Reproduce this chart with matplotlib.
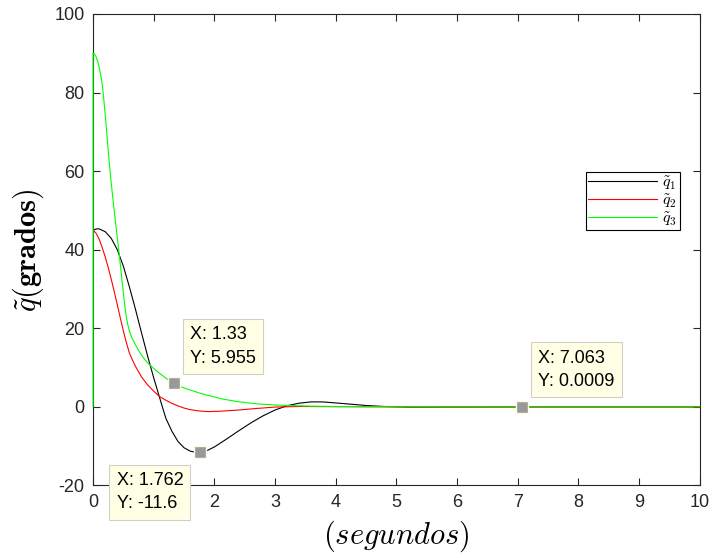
import matplotlib
matplotlib.use('Agg')
import matplotlib.pyplot as plt

# Respuesta de los errores articulares (grados) en el tiempo
t_q1 = [0, 0.06, 0.1, 0.2, 0.3, 0.4, 0.5, 0.6, 0.7, 0.8, 0.9, 1.0, 1.1, 1.2, 1.3,
        1.4, 1.5, 1.6, 1.7, 1.762, 1.85, 2.0, 2.2, 2.4, 2.6, 2.8, 3.0, 3.2, 3.4,
        3.6, 3.8, 4.0, 4.2, 4.5, 4.8, 5.2, 6.0, 7.0, 8.0, 10.0]
q1 = [45.0, 45.3, 45.3, 44.6, 42.9, 40.0, 35.8, 30.5, 24.8, 18.8, 12.9, 7.4, 2.2,
      -2.9, -6.2, -8.8, -10.4, -11.25, -11.6, -11.6, -11.35, -10.2, -8.2, -6.1, -4.1,
      -2.3, -0.8, 0.3, 0.95, 1.28, 1.25, 1.0, 0.75, 0.35, 0.1, -0.05, -0.03, 0.0, 0.0, 0.0]

t_q2 = [0, 0.05, 0.1, 0.15, 0.2, 0.25, 0.3, 0.35, 0.4, 0.45, 0.5, 0.55, 0.6, 0.65,
        0.7, 0.8, 0.9, 1.0, 1.1, 1.2, 1.3, 1.4, 1.5, 1.6, 1.75, 1.9, 2.1, 2.4, 2.7,
        3.0, 3.4, 4.0, 5.0, 10.0]
q2 = [45.0, 44.2, 42.7, 40.6, 38.2, 35.5, 32.5, 29.3, 26.0, 22.6, 19.3, 16.3, 13.7,
      11.9, 10.3, 7.6, 5.6, 4.0, 2.6, 1.7, 0.9, 0.25, -0.3, -0.7, -1.05, -1.2, -1.1,
      -0.8, -0.4, -0.05, 0.1, 0.05, 0.0, 0.0]

t_q3 = [0, 0, 0.025, 0.05, 0.075, 0.1, 0.125, 0.15, 0.175, 0.2, 0.225, 0.25, 0.275,
        0.3, 0.325, 0.35, 0.375, 0.4, 0.425, 0.45, 0.475, 0.5, 0.525, 0.55, 0.575,
        0.6, 0.625, 0.65, 0.7, 0.77, 0.83, 0.9, 0.99, 1.1, 1.21, 1.33, 1.45, 1.6, 1.75,
        1.9, 2.15, 2.4, 2.7, 3.0, 3.25, 3.6, 4.0, 5.0, 7.063, 10.0]
q3 = [0, 90.0, 89.8, 89.1, 88.0, 86.5, 84.6, 82.3, 78.7, 74.5, 70.0, 65.3, 61.0,
      57.0, 53.3, 49.8, 46.4, 43.1, 39.8, 36.3, 32.6, 29.0, 25.6, 22.8, 20.8,
      19.3, 18.2, 17.3, 15.8, 13.9, 12.5, 11.2, 9.9, 8.5, 7.2, 5.955, 5.1, 4.3, 3.55,
      2.9, 1.95, 1.3, 0.76, 0.48, 0.34, 0.18, 0.1, 0.02, 0.0009, 0.0]

# marcadores de datos (X, Y)
tips_x = [1.33, 1.762, 7.063]
tips_y = [5.955, -11.6, 0.0009]

plt.rcParams['font.family'] = ['Liberation Sans', 'DejaVu Sans']
plt.rcParams['mathtext.fontset'] = 'cm'
plt.rcParams['axes.unicode_minus'] = False

fig = plt.figure(figsize=(7.14, 5.58), dpi=100)
ax = fig.add_axes([0.1303, 0.130, 0.8497, 0.845])

ax.plot(t_q1, q1, color='black', lw=0.8, label=r'$\tilde{q}_1$')
ax.plot(t_q2, q2, color='red', lw=0.8, label=r'$\tilde{q}_2$')
ax.plot(t_q3, q3, color='#00ff00', lw=0.8, label=r'$\tilde{q}_3$', zorder=3, clip_on=False)

ax.set_xlim(0, 10)
ax.set_ylim(-20, 100)
ax.set_xticks(range(0, 11))
ax.set_yticks(range(-20, 101, 20))

axis_col = '#262626'
for s in ax.spines.values():
    s.set_color(axis_col)
    s.set_linewidth(0.8)
ax.tick_params(direction='in', length=5, width=0.8, color=axis_col,
               labelcolor=axis_col, labelsize=13, top=True, right=True, pad=6)

ax.set_xlabel(r'$(segundos)$', fontsize=22)
ax.set_ylabel(r'$\tilde{q}\mathbf{(grados)}$', fontsize=22)
ax.xaxis.set_label_coords(0.5, -0.07)
ax.yaxis.set_label_coords(-0.077, 0.5)

leg = ax.legend(loc='upper right', bbox_to_anchor=(0.967, 0.665), fontsize=11.5,
                frameon=True, fancybox=False, framealpha=1, edgecolor='black',
                handlelength=4.3, handletextpad=0.35, labelspacing=0.0,
                borderpad=0.15, borderaxespad=0)
leg.get_frame().set_linewidth(0.8)

# cuadros de los marcadores de datos
offsets = [(12, 12, 'left', 'bottom'), (-12, -14, 'right', 'top'), (12, 12, 'left', 'bottom')]
for x, y, (dx, dy, ha, va) in zip(tips_x, tips_y, offsets):
    ax.plot(x, y, 's', ms=9, mfc='#999999', mec='#fbfbe6', mew=1, zorder=5)
    ax.annotate(f'X: {x:g}\nY: {y:g}', xy=(x, y), xytext=(dx, dy),
                textcoords='offset points', ha=ha, va=va, multialignment='left',
                fontsize=13, linespacing=1.5, annotation_clip=False, zorder=6,
                bbox=dict(boxstyle='square,pad=0.4', fc='#ffffe6', ec='#d0d0c8', lw=0.8))

fig.savefig('out.png', dpi=100)
